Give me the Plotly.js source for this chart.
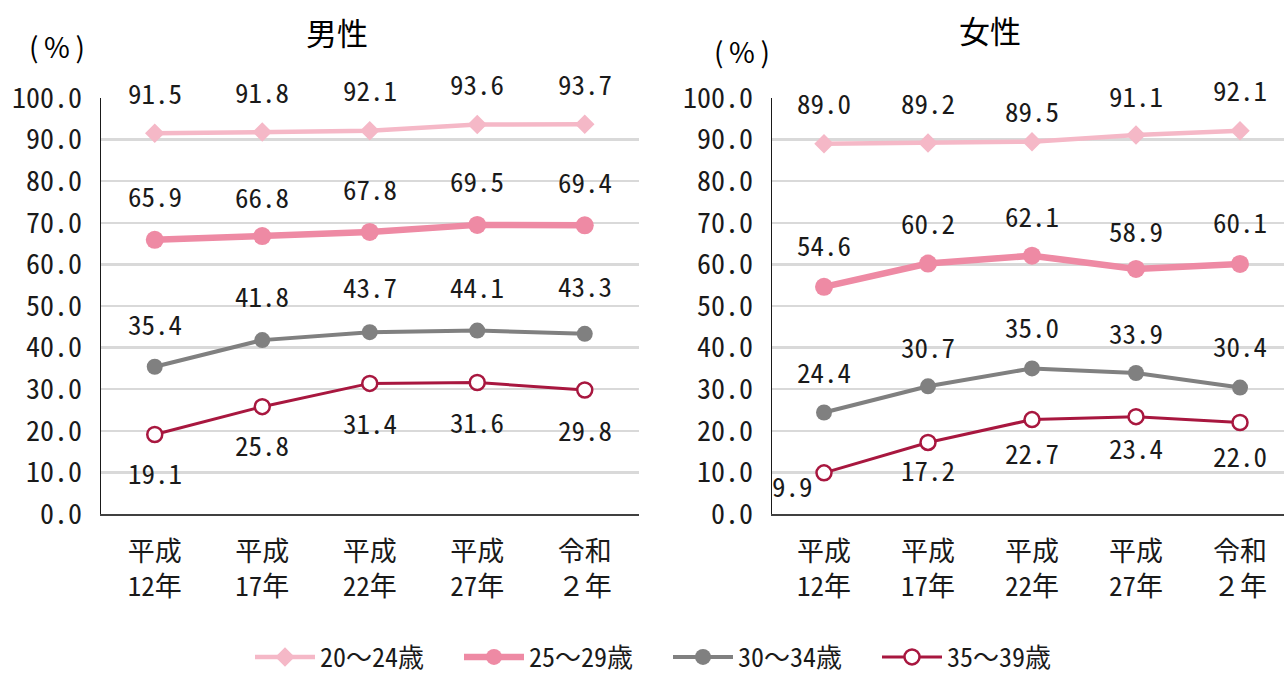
<!DOCTYPE html>
<html><head><meta charset="utf-8">
<script src="https://cdn.plot.ly/plotly-3.0.1.min.js"></script>
<style>html,body{margin:0;padding:0;background:#fff;overflow:hidden}#chart{width:1284px;height:675px}</style>
</head><body><div id="chart"></div>
<script>
// ---- data ----
const categories = ['平成<br>12年','平成<br>17年','平成<br>22年','平成<br>27年','令和<br>２年'];
const seriesNames = ['20～24歳','25～29歳','30～34歳','35～39歳'];
const male_20_24 = [91.5, 91.8, 92.1, 93.6, 93.7];
const male_25_29 = [65.9, 66.8, 67.8, 69.5, 69.4];
const male_30_34 = [35.4, 41.8, 43.7, 44.1, 43.3];
const male_35_39 = [19.1, 25.8, 31.4, 31.6, 29.8];
const female_20_24 = [89.0, 89.2, 89.5, 91.1, 92.1];
const female_25_29 = [54.6, 60.2, 62.1, 58.9, 60.1];
const female_30_34 = [24.4, 30.7, 35.0, 33.9, 30.4];
const female_35_39 = [9.9, 17.2, 22.7, 23.4, 22.0];
const yTickVals = [0,10,20,30,40,50,60,70,80,90,100];

// ---- styles ----
const MONO = "'Noto Sans Mono CJK JP', 'Noto Sans CJK JP', monospace";
const SANS = "'Noto Sans CJK JP', 'Noto Sans', sans-serif";
const styles = [
  {color:'#F5B8C7', width:4.5, symbol:'diamond', size:15, fill:'#F5B8C7', lw:0},
  {color:'#EE8AA4', width:6.5, symbol:'circle', size:18, fill:'#EE8AA4', lw:0},
  {color:'#808080', width:4, symbol:'circle', size:16, fill:'#808080', lw:0},
  {color:'#A8173F', width:3, symbol:'circle', size:15, fill:'#FFFFFF', lw:2.5}
];
// label offsets (px) for each series, relative to its point
const maleShift = [[41,41,41,41,41],[44,40,43,44,44],[43,45,46,44,48],[-38,-38,-39,-39,-39]];
const femaleShift = [[41,40,31,40,41],[42,41,40,38,42],[41,40,42,40,42],[-13,-27,-33,-31,-33]];
const femaleXShift = [[0,0,0,0,0],[0,0,0,0,0],[0,0,0,0,0],[-32,0,0,0,0]];

const maleData = [male_20_24, male_25_29, male_30_34, male_35_39];
const femaleData = [female_20_24, female_25_29, female_30_34, female_35_39];

const traces = [];
const annotations = [];
function addSet(data, xa, ya, showLegend, yShift, xShift) {
  data.forEach((vals, i) => {
    const s = styles[i];
    traces.push({
      type:'scatter', mode:'lines+markers', x:categories, y:vals,
      xaxis:xa, yaxis:ya, name:seriesNames[i], showlegend:showLegend,
      legendgroup:seriesNames[i],
      line:{color:s.color, width:s.width},
      marker:{symbol:s.symbol, size:s.size, color:s.fill, line:{color:s.color, width:s.lw}},
      hoverinfo:'skip'
    });
    vals.forEach((v, j) => {
      annotations.push({
        x:categories[j], y:v, xref:xa, yref:ya, text:v.toFixed(1), showarrow:false,
        xanchor:'center', yanchor:'middle',
        yshift:yShift[i][j], xshift: xShift ? xShift[i][j] : 0,
        font:{family:MONO, size:27, color:'#1a1a1a'}
      });
    });
  });
}
addSet(maleData, 'x', 'y', true, maleShift, null);
addSet(femaleData, 'x2', 'y2', false, femaleShift, femaleXShift);

const W = 1284, FULLH = 675, plotTop = 98, plotBot = 514, H = plotBot - plotTop;
function py(p){ return (plotBot - p) / H; }
function lbl(text, x, y, size){
  return {text:text, xref:'paper', yref:'paper', x:x/W, y:py(y), xanchor:'center', yanchor:'middle',
          showarrow:false, font:{family:SANS, size:size, color:'#000'}};
}
annotations.push(
  lbl('男性', 337, 32, 31),
  lbl('女性', 990, 30, 31),
  lbl('(\u2009%\u2009)', 57, 46, 28),
  lbl('(\u2009%\u2009)', 742, 51, 28)
);

const xAxisCommon = {
  type:'category', showgrid:false, zeroline:false, showline:true, linecolor:'#404040', linewidth:1.5,
  ticks:'', ticklabelstandoff:13, tickfont:{family:MONO, size:27, color:'#1a1a1a'}, fixedrange:true
};
const yAxisCommon = {
  range:[0,100], tickvals:yTickVals, tickformat:'.1f', showgrid:true, gridcolor:'#D9D9D9', gridwidth:2.5,
  zeroline:false, showline:true, linecolor:'#1a1a1a', linewidth:1.5, ticks:'', ticklabelstandoff:12,
  tickfont:{family:MONO, size:28, color:'#1a1a1a'}, fixedrange:true
};

const layout = {
  width:W, height:FULLH,
  margin:{l:0, r:0, t:plotTop, b:FULLH - plotBot, pad:0},
  paper_bgcolor:'#fff', plot_bgcolor:'#fff',
  showlegend:true,
  legend:{orientation:'h', xref:'paper', x:250/W, xanchor:'left', yref:'container', y:1 - 657/FULLH, yanchor:'middle',
          font:{family:MONO, size:26, color:'#1a1a1a'}, itemwidth:60, entrywidth:134, entrywidthmode:'pixels',
          bgcolor:'rgba(0,0,0,0)'},
  xaxis:Object.assign({}, xAxisCommon, {domain:[101/W, 638.5/W], range:[-0.5,4.5], anchor:'y'}),
  yaxis:Object.assign({}, yAxisCommon, {domain:[0,1], anchor:'x'}),
  xaxis2:Object.assign({}, xAxisCommon, {domain:[772/W, 1], range:[-0.5, 4.423], anchor:'y2'}),
  yaxis2:Object.assign({}, yAxisCommon, {domain:[0,1], anchor:'x2'}),
  annotations:annotations
};
Plotly.newPlot('chart', traces, layout, {displayModeBar:false, staticPlot:true});
</script></body></html>
